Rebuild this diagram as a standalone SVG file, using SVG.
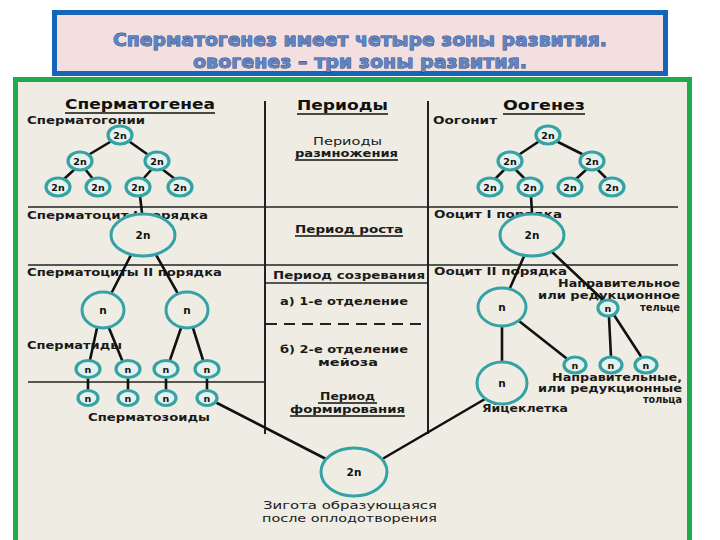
<svg xmlns="http://www.w3.org/2000/svg" width="720" height="540" viewBox="0 0 720 540">
<defs>
<style>
.lbl{font-family:"DejaVu Sans","Liberation Sans",sans-serif;font-weight:bold;font-size:10.5px;fill:#1a1a1a}
.hd{font-family:"DejaVu Sans","Liberation Sans",sans-serif;font-weight:bold;font-size:14px;fill:#111}
.ttl{font-family:"DejaVu Sans","Liberation Sans",sans-serif;font-weight:bold;font-size:18px;fill:#5f84c4;stroke:#1d3f7a;stroke-width:0.8;paint-order:stroke}
.cs{fill:#e4f1ec;stroke:#35a2a6;stroke-width:3.2}
.cb{fill:#efede3;stroke:#35a2a6;stroke-width:3}
.ct{font-family:"DejaVu Sans","Liberation Sans",sans-serif;font-weight:bold;font-size:9.5px;fill:#111;text-anchor:middle}
.ctb{font-family:"DejaVu Sans","Liberation Sans",sans-serif;font-weight:bold;font-size:10.5px;fill:#111;text-anchor:middle}
.sec{stroke:#222;stroke-width:1.5;fill:none}
.con{stroke:#111;stroke-width:2.6;fill:none;stroke-linecap:round}
.ul{stroke:#111;stroke-width:1.5}
</style>
</defs>
<rect x="0" y="0" width="720" height="540" fill="#ffffff"/>
<g id="title">
<rect x="54.5" y="12.5" width="611" height="61" fill="#f3dfdf" stroke="#1565b8" stroke-width="5"/>
<text class="ttl" x="360" y="46" text-anchor="middle" textLength="494" lengthAdjust="spacingAndGlyphs">Сперматогенез имеет четыре зоны развития.</text>
<text class="ttl" x="360" y="68" text-anchor="middle" textLength="334" lengthAdjust="spacingAndGlyphs">овогенез – три зоны развития.</text>
</g>
<rect x="15.5" y="79.5" width="674" height="470" fill="#efede3" stroke="#1faa4e" stroke-width="5"/>
<g id="sections">
<line class="sec" x1="265" y1="101" x2="265" y2="434" style="stroke-width:2"/>
<line class="sec" x1="428" y1="101" x2="428" y2="434" style="stroke-width:2"/>
<line class="sec" x1="28" y1="207" x2="678" y2="207"/>
<line class="sec" x1="28" y1="265" x2="678" y2="265"/>
<line class="sec" x1="265" y1="283" x2="428" y2="283"/>
<line class="sec" x1="266" y1="324" x2="428" y2="324" stroke-dasharray="11 7" style="stroke-width:2"/>
<line class="sec" x1="28" y1="382" x2="265" y2="382"/>
</g>
<g id="labels">
<text class="hd" x="65" y="109" textLength="150" lengthAdjust="spacingAndGlyphs">Сперматогенеа</text>
<line class="ul" x1="65" y1="113" x2="215" y2="113"/>
<text class="lbl" x="27" y="124" textLength="118" lengthAdjust="spacingAndGlyphs">Сперматогонии</text>
<text class="lbl" x="27" y="219" textLength="181" lengthAdjust="spacingAndGlyphs">Сперматоцит I порядка</text>
<text class="lbl" x="27" y="276" textLength="195" lengthAdjust="spacingAndGlyphs">Сперматоциты II порядка</text>
<text class="lbl" x="27" y="349" textLength="95" lengthAdjust="spacingAndGlyphs">Сперматиды</text>
<text class="lbl" x="88" y="421" textLength="122" lengthAdjust="spacingAndGlyphs">Сперматозоиды</text>

<text class="hd" x="297" y="110" textLength="91" lengthAdjust="spacingAndGlyphs">Периоды</text>
<line class="ul" x1="297" y1="114" x2="388" y2="114"/>
<text class="lbl" x="313" y="145" textLength="69" lengthAdjust="spacingAndGlyphs" style="font-weight:normal">Периоды</text>
<text class="lbl" x="295" y="157" textLength="103" lengthAdjust="spacingAndGlyphs">размножения</text>
<line class="ul" x1="295" y1="160" x2="398" y2="160"/>
<text class="lbl" x="295" y="233" textLength="108" lengthAdjust="spacingAndGlyphs">Период роста</text>
<line class="ul" x1="295" y1="236" x2="403" y2="236"/>
<text class="lbl" x="273" y="279" textLength="152" lengthAdjust="spacingAndGlyphs">Период созревания</text>
<text class="lbl" x="280" y="305" textLength="128" lengthAdjust="spacingAndGlyphs">а) 1-е отделение</text>
<text class="lbl" x="280" y="353" textLength="128" lengthAdjust="spacingAndGlyphs">б) 2-е отделение</text>
<text class="lbl" x="318" y="366" textLength="60" lengthAdjust="spacingAndGlyphs">мейоза</text>
<text class="lbl" x="320" y="400" textLength="55" lengthAdjust="spacingAndGlyphs">Период</text>
<line class="ul" x1="318" y1="403" x2="377" y2="403"/>
<text class="lbl" x="290" y="413" textLength="115" lengthAdjust="spacingAndGlyphs">формирования</text>
<line class="ul" x1="290" y1="416" x2="405" y2="416"/>

<text class="hd" x="503" y="110" textLength="82" lengthAdjust="spacingAndGlyphs">Оогенез</text>
<line class="ul" x1="503" y1="114" x2="585" y2="114"/>
<text class="lbl" x="433" y="124" textLength="64" lengthAdjust="spacingAndGlyphs">Оогонит</text>
<text class="lbl" x="434" y="218" textLength="128" lengthAdjust="spacingAndGlyphs">Ооцит I порядка</text>
<text class="lbl" x="434" y="275" textLength="133" lengthAdjust="spacingAndGlyphs">Ооцит II порядка</text>
<text class="lbl" x="680" y="287" text-anchor="end" textLength="122" lengthAdjust="spacingAndGlyphs">Направительное</text>
<text class="lbl" x="680" y="299" text-anchor="end" textLength="142" lengthAdjust="spacingAndGlyphs">или редукционное</text>
<text class="lbl" x="680" y="311" text-anchor="end" textLength="40" lengthAdjust="spacingAndGlyphs">тельце</text>
<text class="lbl" x="682" y="381" text-anchor="end" textLength="130" lengthAdjust="spacingAndGlyphs">Направительные,</text>
<text class="lbl" x="682" y="392" text-anchor="end" textLength="144" lengthAdjust="spacingAndGlyphs">или редукционные</text>
<text class="lbl" x="682" y="403" text-anchor="end" textLength="39" lengthAdjust="spacingAndGlyphs">тольца</text>
<text class="lbl" x="482" y="412" textLength="86" lengthAdjust="spacingAndGlyphs">Яйцеклетка</text>
<text class="lbl" x="263" y="509" textLength="174" lengthAdjust="spacingAndGlyphs" style="font-weight:normal">Зигота образующаяся</text>
<text class="lbl" x="262" y="522" textLength="175" lengthAdjust="spacingAndGlyphs" style="font-weight:normal">после оплодотворения</text>
</g>
<g id="connectors">
<line class="con" x1="110" y1="142" x2="90" y2="154"/>
<line class="con" x1="130" y1="142" x2="147" y2="154"/>
<line class="con" x1="75" y1="169" x2="64" y2="179"/>
<line class="con" x1="85" y1="169" x2="93" y2="179"/>
<line class="con" x1="152" y1="169" x2="143" y2="179"/>
<line class="con" x1="162" y1="169" x2="175" y2="179"/>
<line class="con" x1="140" y1="196" x2="142" y2="213"/>
<line class="con" x1="132" y1="253" x2="112" y2="292"/>
<line class="con" x1="155" y1="253" x2="177" y2="292"/>
<line class="con" x1="97" y1="328" x2="90" y2="360"/>
<line class="con" x1="109" y1="328" x2="122" y2="360"/>
<line class="con" x1="181" y1="328" x2="170" y2="360"/>
<line class="con" x1="193" y1="328" x2="203" y2="360"/>
<line class="con" x1="88" y1="379" x2="88" y2="390"/>
<line class="con" x1="128" y1="379" x2="128" y2="390"/>
<line class="con" x1="166" y1="379" x2="166" y2="390"/>
<line class="con" x1="207" y1="379" x2="207" y2="390"/>
<line class="con" x1="217" y1="403" x2="326" y2="459"/>

<line class="con" x1="538" y1="142" x2="520" y2="154"/>
<line class="con" x1="558" y1="142" x2="582" y2="154"/>
<line class="con" x1="505" y1="169" x2="495" y2="179"/>
<line class="con" x1="515" y1="169" x2="525" y2="179"/>
<line class="con" x1="587" y1="169" x2="576" y2="179"/>
<line class="con" x1="597" y1="169" x2="607" y2="179"/>
<line class="con" x1="531" y1="196" x2="532" y2="213"/>
<line class="con" x1="525" y1="254" x2="510" y2="288"/>
<line class="con" x1="551" y1="251" x2="603" y2="300"/>
<line class="con" x1="502" y1="327" x2="502" y2="361"/>
<line class="con" x1="519" y1="321" x2="566" y2="358"/>
<line class="con" x1="609" y1="317" x2="611" y2="357"/>
<line class="con" x1="614" y1="315" x2="642" y2="358"/>
<line class="con" x1="485" y1="399" x2="384" y2="458"/>
</g>
<g id="sg1"><ellipse class="cs" cx="120" cy="135" rx="12" ry="9"/><text class="ct" x="120" y="139">2n</text></g>
<g id="sg2"><ellipse class="cs" cx="80" cy="161" rx="12" ry="9"/><text class="ct" x="80" y="165">2n</text></g>
<g id="sg3"><ellipse class="cs" cx="157" cy="161" rx="12" ry="9"/><text class="ct" x="157" y="165">2n</text></g>
<g id="sg4"><ellipse class="cs" cx="58" cy="187" rx="12" ry="9"/><text class="ct" x="58" y="191">2n</text></g>
<g id="sg5"><ellipse class="cs" cx="98" cy="187" rx="12" ry="9"/><text class="ct" x="98" y="191">2n</text></g>
<g id="sg6"><ellipse class="cs" cx="138" cy="187" rx="12" ry="9"/><text class="ct" x="138" y="191">2n</text></g>
<g id="sg7"><ellipse class="cs" cx="180" cy="187" rx="12" ry="9"/><text class="ct" x="180" y="191">2n</text></g>
<g id="sc1"><ellipse class="cb" cx="143" cy="235" rx="32" ry="21"/><text class="ctb" x="143" y="239">2n</text></g>
<g id="sc2a"><ellipse class="cb" cx="103" cy="310" rx="21" ry="18"/><text class="ctb" x="103" y="314">n</text></g>
<g id="sc2b"><ellipse class="cb" cx="187" cy="310" rx="21" ry="18"/><text class="ctb" x="187" y="314">n</text></g>
<g id="st1"><ellipse class="cs" cx="88" cy="369" rx="12" ry="8.5"/><text class="ct" x="88" y="373">n</text></g>
<g id="st2"><ellipse class="cs" cx="128" cy="369" rx="12" ry="8.5"/><text class="ct" x="128" y="373">n</text></g>
<g id="st3"><ellipse class="cs" cx="166" cy="369" rx="12" ry="8.5"/><text class="ct" x="166" y="373">n</text></g>
<g id="st4"><ellipse class="cs" cx="207" cy="369" rx="12" ry="8.5"/><text class="ct" x="207" y="373">n</text></g>
<g id="sz1"><ellipse class="cs" cx="88" cy="398" rx="10" ry="7.5"/><text class="ct" x="88" y="402">n</text></g>
<g id="sz2"><ellipse class="cs" cx="128" cy="398" rx="10" ry="7.5"/><text class="ct" x="128" y="402">n</text></g>
<g id="sz3"><ellipse class="cs" cx="166" cy="398" rx="10" ry="7.5"/><text class="ct" x="166" y="402">n</text></g>
<g id="sz4"><ellipse class="cs" cx="207" cy="398" rx="10" ry="7.5"/><text class="ct" x="207" y="402">n</text></g>

<g id="og1"><ellipse class="cs" cx="548" cy="135" rx="12" ry="9"/><text class="ct" x="548" y="139">2n</text></g>
<g id="og2"><ellipse class="cs" cx="510" cy="161" rx="12" ry="9"/><text class="ct" x="510" y="165">2n</text></g>
<g id="og3"><ellipse class="cs" cx="592" cy="161" rx="12" ry="9"/><text class="ct" x="592" y="165">2n</text></g>
<g id="og4"><ellipse class="cs" cx="490" cy="187" rx="12" ry="9"/><text class="ct" x="490" y="191">2n</text></g>
<g id="og5"><ellipse class="cs" cx="530" cy="187" rx="12" ry="9"/><text class="ct" x="530" y="191">2n</text></g>
<g id="og6"><ellipse class="cs" cx="570" cy="187" rx="12" ry="9"/><text class="ct" x="570" y="191">2n</text></g>
<g id="og7"><ellipse class="cs" cx="612" cy="187" rx="12" ry="9"/><text class="ct" x="612" y="191">2n</text></g>
<g id="oc1"><ellipse class="cb" cx="532" cy="235" rx="32" ry="21"/><text class="ctb" x="532" y="239">2n</text></g>
<g id="oc2"><ellipse class="cb" cx="502" cy="307" rx="24" ry="19"/><text class="ctb" x="502" y="311">n</text></g>
<g id="pb1"><ellipse class="cs" cx="608" cy="308" rx="10" ry="8"/><text class="ct" x="608" y="312">n</text></g>
<g id="pb2"><ellipse class="cs" cx="575" cy="365" rx="11" ry="8"/><text class="ct" x="575" y="369">n</text></g>
<g id="pb3"><ellipse class="cs" cx="611" cy="365" rx="11" ry="8"/><text class="ct" x="611" y="369">n</text></g>
<g id="pb4"><ellipse class="cs" cx="646" cy="365" rx="11" ry="8"/><text class="ct" x="646" y="369">n</text></g>
<g id="egg"><ellipse class="cb" cx="502" cy="383" rx="25" ry="21"/><text class="ctb" x="502" y="387">n</text></g>
<g id="zyg"><ellipse class="cb" cx="354" cy="472" rx="33" ry="24"/><text class="ctb" x="354" y="476">2n</text></g>
</svg>
